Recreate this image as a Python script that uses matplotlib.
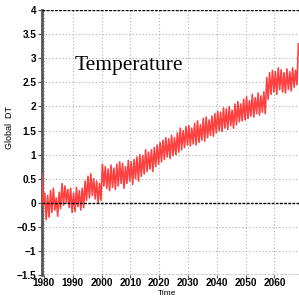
import matplotlib
matplotlib.use("Agg")
import matplotlib.pyplot as plt
import numpy as np

# Global temperature anomaly, alternating yearly highs/lows
START_YEAR = 1979.3
STEP = 0.5
global_dt = [
    0.60, -0.05, 0.20, -0.35, 0.15, -0.30, 0.25, -0.20, 0.30, -0.15,   # 1979-83
    0.10, -0.28, 0.22, -0.12, 0.40, -0.05, 0.35, 0.00, 0.28, -0.10,    # 1984-88
    0.30, -0.20, 0.20, -0.18, 0.32, -0.08, 0.25, -0.15, 0.30, -0.10,   # 1989-93
    0.45, 0.05, 0.55, 0.10, 0.60, 0.15, 0.50, 0.08, 0.45, 0.00,        # 1994-98
    0.40, 0.05, 0.80, 0.35, 0.75, 0.30, 0.70, 0.25, 0.78, 0.32,        # 1999-2003
    0.72, 0.28, 0.80, 0.35, 0.85, 0.40, 0.82, 0.30, 0.75, 0.40,        # 2004-08
    0.88, 0.45, 0.85, 0.38, 0.90, 0.50, 0.95, 0.45, 1.00, 0.55,        # 2009-13
    0.98, 0.60, 1.10, 0.65, 1.05, 0.70, 1.10, 0.65, 1.15, 0.75,        # 2014-18
    1.20, 0.80, 1.25, 0.85, 1.30, 0.90, 1.35, 0.95, 1.33, 0.92,        # 2019-23
    1.40, 0.98, 1.35, 1.00, 1.45, 1.05, 1.55, 1.10, 1.50, 1.15,        # 2024-28
    1.58, 1.20, 1.60, 1.18, 1.55, 1.22, 1.65, 1.20, 1.70, 1.25,        # 2029-33
    1.62, 1.30, 1.75, 1.28, 1.78, 1.35, 1.72, 1.40, 1.80, 1.38,        # 2034-38
    1.85, 1.45, 1.90, 1.50, 1.88, 1.48, 1.97, 1.55, 1.95, 1.52,        # 2039-43
    2.00, 1.60, 1.92, 1.55, 2.05, 1.62, 2.10, 1.68, 2.05, 1.70,        # 2044-48
    2.15, 1.72, 2.20, 1.75, 2.12, 1.80, 2.25, 1.78, 2.18, 1.85,        # 2049-53
    2.28, 1.82, 2.22, 1.88, 2.30, 1.85, 2.60, 2.15, 2.70, 2.25,        # 2054-58
    2.75, 2.30, 2.72, 2.25, 2.80, 2.35, 2.76, 2.30, 2.70, 2.28,        # 2059-63
    2.78, 2.35, 2.72, 2.32, 2.80, 2.40, 2.75, 2.45,                    # 2064-67
    3.30,                                                              # 2068
]
years = START_YEAR + STEP * np.arange(len(global_dt))

x_ticks = [1980, 1990, 2000, 2010, 2020, 2030, 2040, 2050, 2060]
y_ticks = [-1.5, -1, -0.5, 0, 0.5, 1, 1.5, 2, 2.5, 3, 3.5, 4]
y_tick_labels = ["\u22121.5", "\u22121", "\u22120.5", "0", "0.5", "1", "1.5",
                 "2", "2.5", "3", "3.5", "4"]

sans = ["Liberation Sans", "DejaVu Sans"]
tick_font = dict(family=sans, size=7.2, weight="bold")

fig = plt.figure(figsize=(2.99, 2.97), dpi=100)
ax = fig.add_axes([0.140, 0.074, 0.860, 0.892])

ax.plot(years, global_dt, color="#ff4040", linewidth=1.2, zorder=3)

# reference lines
dark = dict(color="black", linewidth=1.0, linestyle=(0, (2, 1)), zorder=4)
ax.axhline(0, **dark)
ax.axhline(4, **dark)
ax.axhline(-1.5, **dark)

ax.set_xlim(1979.3, 2068.5)
ax.set_ylim(-1.5, 4)
ax.set_xticks(x_ticks)
ax.set_xticklabels([str(t) for t in x_ticks], fontdict=tick_font)
ax.set_yticks(y_ticks)
ax.set_yticklabels(y_tick_labels, fontdict=tick_font)
ax.tick_params(axis="both", length=3, width=0.8, pad=1, color="#555555")
ax.tick_params(axis="x", length=2, pad=0.5)

ax.grid(True, color="#b0b0b0", linestyle=(0, (1, 2)), linewidth=0.8)

for side in ("top", "bottom", "right"):
    ax.spines[side].set_visible(False)
ax.spines["left"].set_color("#555555")
ax.spines["left"].set_linewidth(2.0)

ax.text(1990.8, 2.86, "Temperature", family=["Liberation Serif", "DejaVu Serif"],
        fontsize=15.5, ha="left", va="center", zorder=5)

fig.text(0.558, 0.0, "Time", family=sans, fontsize=6, ha="center", va="bottom")
fig.text(0.033, 0.572, "Global  DT", family=sans, fontsize=6.5,
         ha="center", va="center", rotation=90)

fig.savefig("out.png", dpi=100)
